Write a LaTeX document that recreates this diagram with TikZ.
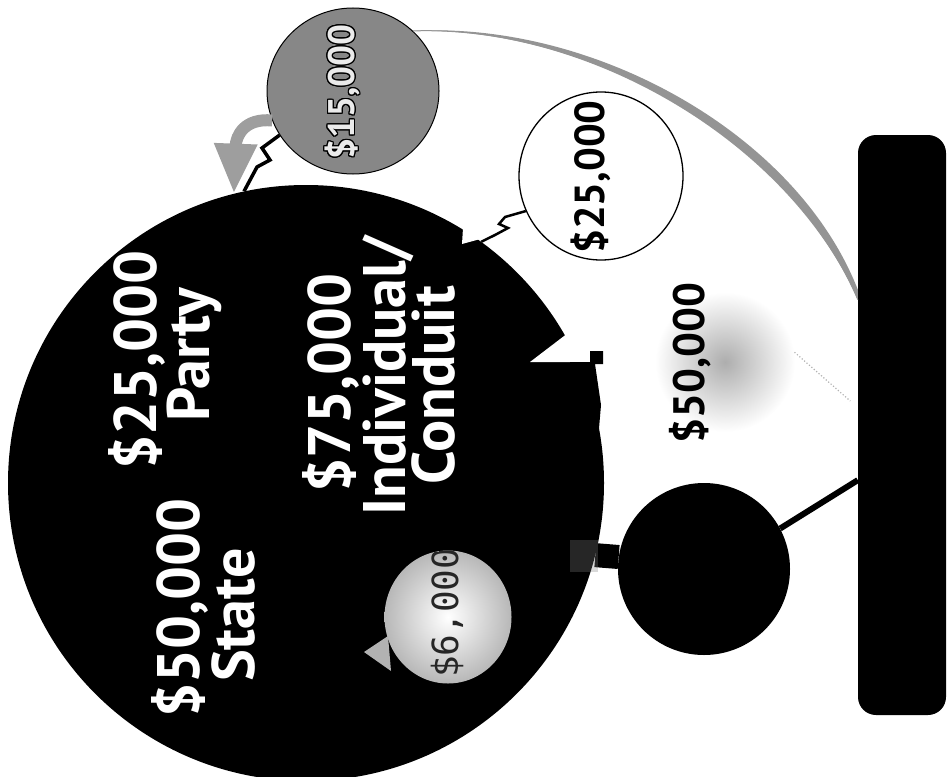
\documentclass[tikz,border=0pt]{standalone}
\usepackage{fontspec}
\setmainfont{PT Sans}
\newfontfamily\monofam{DejaVu Sans Mono}
\usepackage{contour}
\contourlength{1.3pt}
\usetikzlibrary{shapes.geometric,arrows.meta,calc}
\tikzset{
  bigtxt/.style={text=white, font=\bfseries\fontsize{60}{60}\selectfont, rotate=90, inner sep=0pt},
  midtxt/.style={font=\bfseries\fontsize{42}{42}\selectfont, rotate=90, inner sep=0pt},
  ball/.style={ellipse, inner sep=0pt},
  zig/.style={draw=black, line width=3.5pt, line join=miter},
  zigthin/.style={draw=black, line width=2.5pt, line join=miter},
  grayarr/.style={draw=black!38, line width=12pt, -{Triangle[width=40pt,length=50pt]}},
}
\begin{document}
\begin{tikzpicture}[x=1pt,y=-1pt]
\useasboundingbox (0,0) rectangle (947,776);
\clip (0,0) rectangle (947,776);

% big circle
\node[circle, fill=black, minimum size=596pt, inner sep=0pt] (big) at (306,483) {};
\fill[white] (568,333) -- (530,362) -- (591,362) -- cycle;
\fill[black] (590,351) -- (603,351) -- (603,364) -- (595,364) -- (601,405) -- (598,440) -- (570,440) -- (570,362) -- (590,362) -- cycle;
\fill[white] (463,228) -- (462,244) -- (484,238) -- cycle;

% texts in big circle
\node[bigtxt] (t50) at (180,608) {\$50,000};
\node[bigtxt] (tstate) at (233,615) {State};
\node[bigtxt] (t25) at (137,360) {\$25,000};
\node[bigtxt] (tparty) at (194,355) {Party};
\node[bigtxt] (t75) at (331,383) {\$75,000};
\node[bigtxt] (tind) at (388,376) {Individual/};
\node[bigtxt] (tcond) at (433,385) {Conduit};

% $6,000 circle
\node[ball, shade, inner color=white, outer color=black!28, minimum width=127pt, minimum height=133pt] (c6) at (448,617) {};
\begin{scope}
\clip (448,617) ellipse [x radius=63.5pt, y radius=66.5pt];
\node[rotate=90, inner sep=0pt, anchor=west, text=black!85, font=\monofam\fontsize{36}{36}\selectfont] (t6) at (447,678) {\$6,000};
\end{scope}
\coordinate (t6tip) at (364,652);
\coordinate (t6a) at (388,636);
\coordinate (t6b) at (391,671);
\fill[black!30] (t6a) -- (t6tip) -- (t6b) -- cycle;

% $15,000 circle
\node[ball, draw=black, line width=1pt, fill=black!47, minimum width=172pt, minimum height=166pt] (c15) at (353,91) {};
\node[midtxt, text=black!8, font=\bfseries\fontsize{37}{37}\selectfont] (t15) at (343,92) {\contour{black}{\$15,000}};

% $25,000 circle
\node[ball, draw=black, line width=1.3pt, fill=white, minimum width=164pt, minimum height=168pt] (c25) at (601,176) {};
\node[midtxt] (t25b) at (591,177) {\$25,000};

% $50,000 faded circle
\node[circle, shade, shading=radial, inner color=black!32, outer color=white, minimum size=140pt, inner sep=0pt] (c50) at (725,362) {};
\node[midtxt, font=\bfseries\fontsize{44}{44}\selectfont] (t50b) at (690,363) {\$50,000};

% dark circle
\node[circle, fill=black, minimum size=172pt, inner sep=0pt] (dark) at (704,569) {};

% rounded bar
\node[rectangle, rounded corners=18pt, fill=black, minimum width=88pt, minimum height=580pt, inner sep=0pt] (rect) at (902,425) {};
\coordinate (rA) at ($(rect.north west)!0.284!(rect.south west)$);
\coordinate (rB) at ($(rect.north west)!0.595!(rect.south west)$);
\coordinate (rC) at ($(rect.north west)!0.47!(rect.south west)$);

% connectors
\draw[grayarr] (c15.200) .. controls (245,118) and (236,135) .. (big.104);
\draw[zig] (c15.211) -- (262,148) -- (270,160) -- (257,167) -- (big.102);
\draw[zigthin] (c25.205) -- (505,217) -- (499,224) -- (508,228) -- (495,235) -- (big.54);
\draw[black, line width=24pt] (big.-14) -- (dark.172);
\fill[black!50, opacity=0.3] (570,540) rectangle (598,572);
\draw[black, line width=6pt] (dark.28) -- (rB);
\fill[black!42] (c15.45) .. controls (590,26) and (788,142) .. (rA)
   -- ($(rA)+(0,-10)$) .. controls (796,132) and (592,21) .. (c15.45) -- cycle;
\draw[black!42, line width=1pt] (c15.45) .. controls (590,25) and (790,140) .. (rA);
\draw[black!30, dotted, line width=1.2pt, shorten >=10pt] (c50.8) -- (rC);
\end{tikzpicture}
\end{document}
